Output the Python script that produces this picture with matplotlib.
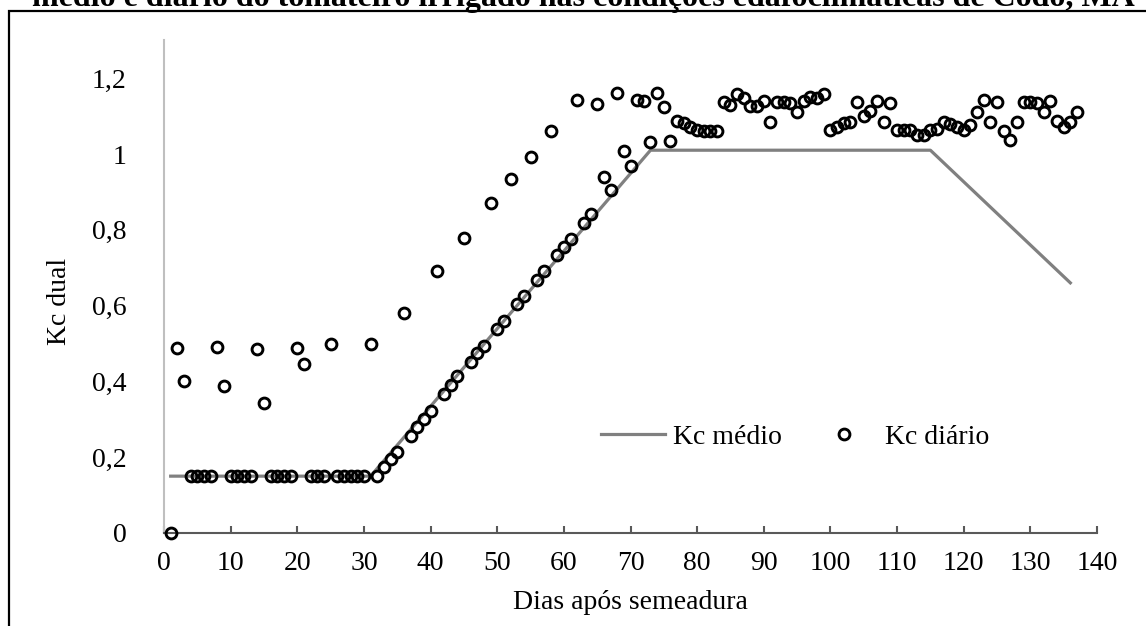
import matplotlib
matplotlib.use('Agg')
import matplotlib.pyplot as plt
from matplotlib.patches import Rectangle

plt.rcParams['font.family'] = ['Liberation Serif', 'DejaVu Serif']

# Kc diário (dias após semeadura)
dias = list(range(1, 138))
kc_diario = [
    0.0, 0.487, 0.401, 0.15, 0.15, 0.15, 0.15, 0.492, 0.388, 0.15,
    0.15, 0.15, 0.15, 0.485, 0.342, 0.15, 0.15, 0.15, 0.15, 0.487,
    0.446, 0.15, 0.15, 0.15, 0.50, 0.15, 0.15, 0.15, 0.15, 0.15,
    0.50, 0.15, 0.173, 0.194, 0.215, 0.581, 0.257, 0.279, 0.301, 0.323,
    0.691, 0.367, 0.390, 0.413, 0.778, 0.452, 0.474, 0.494, 0.872, 0.538,
    0.560, 0.934, 0.603, 0.625, 0.993, 0.668, 0.690, 1.061, 0.734, 0.755,
    0.776, 1.142, 0.819, 0.841, 1.131, 0.938, 0.905, 1.160, 1.009, 0.969,
    1.142, 1.141, 1.031, 1.162, 1.123, 1.035, 1.087, 1.081, 1.072, 1.063,
    1.061, 1.061, 1.061, 1.138, 1.129, 1.158, 1.147, 1.127, 1.127, 1.141,
    1.085, 1.138, 1.138, 1.135, 1.110, 1.141, 1.151, 1.147, 1.158, 1.063,
    1.072, 1.081, 1.085, 1.138, 1.100, 1.114, 1.141, 1.085, 1.135, 1.063,
    1.063, 1.063, 1.050, 1.050, 1.063, 1.065, 1.085, 1.078, 1.072, 1.063,
    1.077, 1.112, 1.142, 1.085, 1.138, 1.061, 1.037, 1.085, 1.138, 1.138,
    1.135, 1.110, 1.141, 1.088, 1.072, 1.085, 1.110,
]

# Kc médio (curva por fases)
dias_medio = [1, 31, 73, 115, 136]
kc_medio = [0.15, 0.15, 1.01, 1.01, 0.66]

yticks = [0, 0.2, 0.4, 0.6, 0.8, 1.0, 1.2]
ytick_labels = ['0', '0,2', '0,4', '0,6', '0,8', '1', '1,2']
xticks = list(range(0, 141, 10))

titulo = 'médio e diário do tomateiro irrigado nas condições edafoclimáticas de Codó, MA'

W, H = 1146, 626
fig = plt.figure(figsize=(W / 100, H / 100), dpi=100)
ax = fig.add_axes([164 / W, 93 / H, 933 / W, 492.7 / H])

ax.plot(dias_medio, kc_medio, color='#808080', lw=2.3, label='Kc médio', zorder=2)
ax.plot(dias, kc_diario, ls='none', marker='o', ms=7.8, mfc='none', mec='black',
        mew=2.1, label='Kc diário', zorder=3, clip_on=False)

ax.set_xlim(0, 140)
ax.set_ylim(0, 1.3)
ax.set_xticks(xticks)
ax.set_yticks(yticks)
ax.set_yticklabels(ytick_labels)

for s in ['top', 'right']:
    ax.spines[s].set_visible(False)
ax.spines['left'].set_color('#bfbfbf')
ax.spines['left'].set_linewidth(1.5)
ax.spines['bottom'].set_color('#595959')
ax.spines['bottom'].set_linewidth(1.5)

fs = 20
ax.tick_params(axis='x', direction='in', length=5, width=1.5, color='#595959',
               labelsize=fs, pad=13)
ax.tick_params(axis='y', length=0, labelsize=fs, pad=27)

ax.set_xlabel('Dias após semeadura', fontsize=fs)
ax.xaxis.label.set_va('center')
ax.xaxis.set_label_coords(0.5, -0.142)
ax.set_ylabel('Kc dual', fontsize=fs)
ax.yaxis.label.set_va('center')
ax.yaxis.set_label_coords(-0.1125, 0.471)

ax.legend(loc='center', bbox_to_anchor=(0.676, 0.195), ncol=2, frameon=False,
          fontsize=fs, handlelength=2.3, handletextpad=0.3, columnspacing=1.1)

# moldura e título cortado no topo
fig.patches.append(Rectangle((9 / W, -0.05), 1.1, (H - 10.7) / H + 0.05,
                             transform=fig.transFigure, fill=False,
                             edgecolor='black', lw=1.6))
fig.text(32 / W, 1 - 6 / H, titulo, ha='left', va='baseline', fontsize=23,
         fontweight='bold')

fig.savefig('out.png', dpi=100)
